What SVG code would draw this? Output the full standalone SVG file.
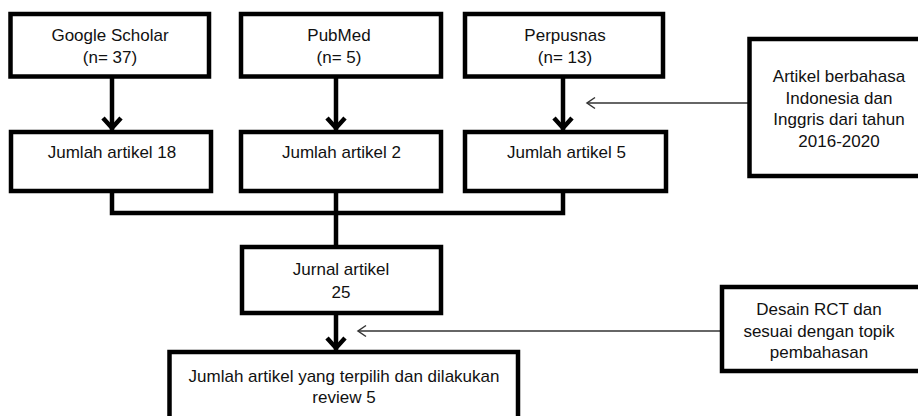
<svg xmlns="http://www.w3.org/2000/svg" width="918" height="416" viewBox="0 0 918 416">
<style>
.box{fill:#fff;stroke:#000;stroke-width:4.5}
.t{font-family:"Liberation Sans",Arial,sans-serif;font-size:17px;fill:#111;text-anchor:middle}
.thick{fill:none;stroke:#000;stroke-width:4.5}
.thin{fill:none;stroke:#333;stroke-width:1.5}
</style>
<defs>
<marker id="ah" markerUnits="userSpaceOnUse" viewBox="-16 -12 20 24" markerWidth="20" markerHeight="24" refX="0" refY="0" orient="auto" overflow="visible">
<path d="M-12,-9 L-2,0 L-12,9" fill="none" stroke="#000" stroke-width="4.5"/>
</marker>
<marker id="ahs" markerUnits="userSpaceOnUse" viewBox="-10 -7 12 14" markerWidth="12" markerHeight="14" refX="0" refY="0" orient="auto" overflow="visible">
<path d="M-8,-5.5 L0,0 L-8,5.5" fill="none" stroke="#333" stroke-width="1.5"/>
</marker>
</defs>
<g id="connectors">
<line class="thick" x1="112" y1="77" x2="112" y2="130" marker-end="url(#ah)"/>
<line class="thick" x1="336" y1="77" x2="336" y2="130" marker-end="url(#ah)"/>
<line class="thick" x1="563" y1="77" x2="563" y2="130" marker-end="url(#ah)"/>
<polyline class="thick" points="112,191 112,213 563,213 563,191"/>
<line class="thick" x1="336" y1="191" x2="336" y2="247"/>
<line class="thick" x1="336" y1="313" x2="336" y2="350" marker-end="url(#ah)"/>
<line class="thin" x1="749" y1="103" x2="587" y2="103" marker-end="url(#ahs)"/>
<line class="thin" x1="722" y1="331" x2="358" y2="331" marker-end="url(#ahs)"/>
</g>
<g id="google">
<rect class="box" x="10.5" y="14" width="198.5" height="62.5"/>
<text class="t" x="110" y="41">Google Scholar</text>
<text class="t" x="110" y="63">(n= 37)</text>
</g>
<g id="pubmed">
<rect class="box" x="241" y="14" width="200" height="62.5"/>
<text class="t" x="339" y="41">PubMed</text>
<text class="t" x="339" y="63">(n= 5)</text>
</g>
<g id="perpusnas">
<rect class="box" x="465" y="14" width="198" height="62.5"/>
<text class="t" x="565" y="41">Perpusnas</text>
<text class="t" x="565" y="63">(n= 13)</text>
</g>
<g id="kriteria1">
<rect class="box" x="749.5" y="39" width="200" height="137"/>
<text class="t" x="839" y="82">Artikel berbahasa</text>
<text class="t" x="839" y="103.5">Indonesia dan</text>
<text class="t" x="839" y="125">Inggris dari tahun</text>
<text class="t" x="839" y="146.5">2016-2020</text>
</g>
<g id="jumlah18">
<rect class="box" x="11" y="132" width="200" height="59"/>
<text class="t" x="112" y="158">Jumlah artikel 18</text>
</g>
<g id="jumlah2">
<rect class="box" x="241" y="132" width="200" height="59"/>
<text class="t" x="341.5" y="158">Jumlah artikel 2</text>
</g>
<g id="jumlah5">
<rect class="box" x="465" y="132" width="201" height="59"/>
<text class="t" x="566.5" y="158">Jumlah artikel 5</text>
</g>
<g id="jurnal">
<rect class="box" x="242" y="247" width="199" height="66"/>
<text class="t" x="341" y="275">Jurnal artikel</text>
<text class="t" x="341" y="298">25</text>
</g>
<g id="kriteria2">
<rect class="box" x="722" y="287" width="200" height="84"/>
<text class="t" x="819" y="315">Desain RCT dan</text>
<text class="t" x="819" y="337">sesuai dengan topik</text>
<text class="t" x="819" y="358">pembahasan</text>
</g>
<g id="terpilih">
<rect class="box" x="169.5" y="352" width="348.5" height="100"/>
<text class="t" x="344" y="381.5">Jumlah artikel yang terpilih dan dilakukan</text>
<text class="t" x="344" y="403">review 5</text>
</g>
</svg>
